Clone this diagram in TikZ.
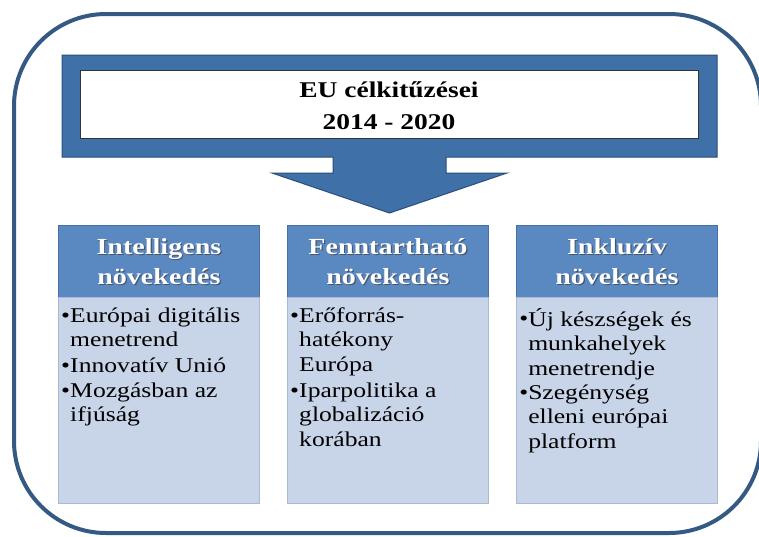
\documentclass[tikz,border=0pt]{standalone}
\usepackage{fontspec}
\setmainfont{Liberation Serif}
\definecolor{framec}{RGB}{52,90,132}
\definecolor{callfill}{RGB}{63,112,168}
\definecolor{calldraw}{RGB}{42,78,122}
\definecolor{hdrfill}{RGB}{90,136,193}
\definecolor{hdrdraw}{RGB}{70,112,165}
\definecolor{bodyfill}{RGB}{200,212,232}
\definecolor{bodydraw}{RGB}{170,186,214}
\begin{document}
\begin{tikzpicture}[x=1pt,y=-1pt,
  stretched/.style={xscale=1.22,transform shape},
  hdrbox/.style={draw=hdrdraw,fill=hdrfill,line width=0.8pt,minimum width=201pt,minimum height=72pt,inner sep=0pt,anchor=north west},
  bodybox/.style={draw=bodydraw,fill=bodyfill,line width=0.8pt,minimum width=201pt,minimum height=206pt,inner sep=0pt,anchor=north west},
  hdrtext/.style={stretched,text=white,align=center,inner sep=0pt,font=\rmfamily\bfseries\fontsize{23}{30}\selectfont},
  hdrshadow/.style={stretched,text=black!75,opacity=0.7,align=center,inner sep=0pt,font=\rmfamily\bfseries\fontsize{23}{30}\selectfont},
  bodytext/.style={stretched,anchor=north west,align=left,inner sep=0pt,font=\rmfamily\fontsize{21}{24.5}\selectfont},
  bullet/.style={stretched,anchor=north west,inner sep=0pt,font=\rmfamily\fontsize{21}{24.5}\selectfont},
  titletext/.style={stretched,align=center,inner sep=0pt,font=\rmfamily\bfseries\fontsize{22.5}{32}\selectfont}
]
\useasboundingbox (0,0) rectangle (759,536);
\fill[white] (0,0) rectangle (759,536);
% outer frame
\draw[framec,line width=4pt,rounded corners=92pt] (14,14) rectangle (761,533);
% callout
\draw[fill=callfill,draw=calldraw,line width=1pt]
  (62,55) -- (717,55) -- (717,157) -- (446,157) -- (446,173) -- (507,173)
  -- (389.5,213) -- (272,173) -- (333,173) -- (333,157) -- (62,157) -- cycle;
\node[draw=black!80,fill=white,line width=0.8pt,minimum width=618pt,minimum height=68pt,anchor=north west,inner sep=0pt] (inner) at (80,70) {};
\node[titletext] (title) at (389,106) {EU célkitűzései\\2014 - 2020};
% columns
\node[hdrbox] (h1) at (58,225) {};
\node[hdrbox] (h2) at (287,225) {};
\node[hdrbox] (h3) at (516,225) {};
\node[bodybox] (b1) at (58,297) {};
\node[bodybox] (b2) at (287,297) {};
\node[bodybox] (b3) at (516,297) {};
\node[hdrshadow] (s1) at ([shift={(1.2,1.2)}]h1.center) {Intelligens\\növekedés};
\node[hdrshadow] (s2) at ([shift={(1.2,1.2)}]h2.center) {Fenntartható\\növekedés};
\node[hdrshadow] (s3) at ([shift={(1.2,1.2)}]h3.center) {Inkluzív\\növekedés};
\node[hdrtext] (t1) at (h1.center) {Intelligens\\növekedés};
\node[hdrtext] (t2) at (h2.center) {Fenntartható\\növekedés};
\node[hdrtext] (t3) at (h3.center) {Inkluzív\\növekedés};
% column 1
\node[bullet] (p11) at (61,305) {\strut•};
\node[bodytext] (x11) at (70,305) {\strut Európai digitális\\menetrend};
\node[bullet] (p12) at (61,355) {\strut•};
\node[bodytext] (x12) at (70,355) {\strut Innovatív Unió};
\node[bullet] (p13) at (61,380) {\strut•};
\node[bodytext] (x13) at (70,380) {\strut Mozgásban az\\ifjúság};
% column 2
\node[bullet] (p21) at (290,305) {\strut•};
\node[bodytext] (x21) at (299,305) {\strut Erőforrás-\\hatékony\\Európa};
\node[bullet] (p22) at (290,380) {\strut•};
\node[bodytext] (x22) at (299,380) {\strut Iparpolitika a\\globalizáció\\korában};
% column 3
\node[bullet] (p31) at (519,308) {\strut•};
\node[bodytext] (x31) at (528,308) {\strut Új készségek és\\munkahelyek\\menetrendje};
\node[bullet] (p32) at (519,382) {\strut•};
\node[bodytext] (x32) at (528,382) {\strut Szegénység\\elleni európai\\platform};
\end{tikzpicture}
\end{document}
